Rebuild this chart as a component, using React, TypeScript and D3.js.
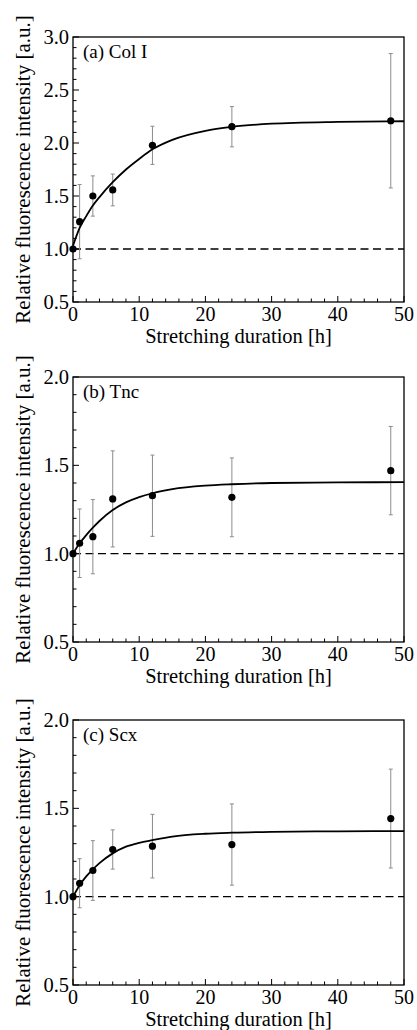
import React from "react";
import * as d3 from "d3";

// ---- data ----
const times = [0, 1, 3, 6, 12, 24, 48];

const colIMean = [1.0, 1.258, 1.5, 1.557, 1.978, 2.154, 2.21];
const colISd = [0, 0.35, 0.19, 0.15, 0.18, 0.19, 0.634];

const tncMean = [1.0, 1.059, 1.096, 1.31, 1.328, 1.319, 1.47];
const tncSd = [0, 0.194, 0.21, 0.272, 0.23, 0.223, 0.25];

const scxMean = [1.0, 1.076, 1.148, 1.267, 1.286, 1.295, 1.442];
const scxSd = [0, 0.139, 0.169, 0.111, 0.18, 0.23, 0.28];

const fitTimes = [0, 1, 2, 3, 4, 6, 8, 10, 12, 15, 20, 24, 30, 40, 50];
const colIFit = [1.03, 1.2, 1.31, 1.41, 1.49, 1.63, 1.75, 1.85, 1.94, 2.03, 2.115, 2.152, 2.182, 2.199, 2.205];
const tncFit = [1.0, 1.059, 1.105, 1.147, 1.185, 1.247, 1.29, 1.32, 1.342, 1.365, 1.385, 1.393, 1.4, 1.403, 1.405];
const scxFit = [1.0, 1.065, 1.115, 1.155, 1.19, 1.245, 1.283, 1.305, 1.32, 1.34, 1.356, 1.362, 1.367, 1.37, 1.371];

const panelLabels = ["(a) Col I", "(b) Tnc", "(c) Scx"];
const yDomains: [number, number][] = [[0.5, 3.0], [0.5, 2.0], [0.5, 2.0]];
const xTicks = [0, 10, 20, 30, 40, 50];
const xTitle = "Stretching duration [h]";
const yTitle = "Relative fluorescence intensity [a.u.]";

// ---- layout ----
const W = 417;
const H = 1030;
const left = 73;
const right = 404;
const panelTops = [37, 377, 720];
const panelH = 265;
const FONT = "'Liberation Serif', 'Times New Roman', serif";

type PanelProps = {
  top: number;
  label: string;
  domain: [number, number];
  mean: number[];
  sd: number[];
  fit: number[];
};

function Panel({ top, label, domain, mean, sd, fit }: PanelProps) {
  const bottom = top + panelH;
  const x = d3.scaleLinear().domain([0, 50]).range([left, right]);
  const y = d3.scaleLinear().domain(domain).range([bottom, top]);

  const minorX = d3.range(0, 50.001, 2);
  const majorY = d3.range(domain[0], domain[1] + 0.001, 0.5);
  const minorY = d3.range(Math.round(domain[0] * 10), Math.round(domain[1] * 10) + 1).map((v) => v / 10);

  const line = d3
    .line<number>()
    .x((_, i) => x(fitTimes[i]))
    .y((d) => y(d))
    .curve(d3.curveMonotoneX);

  return (
    <g>
      {minorX.map((t) => (
        <line key={"mx" + t} x1={x(t)} x2={x(t)} y1={bottom} y2={bottom - (t % 10 === 0 ? 6 : 3.5)} stroke="#000" strokeWidth={1} />
      ))}
      {minorY.map((v) => {
        const isMajor = majorY.some((m) => Math.abs(m - v) < 1e-6);
        return (
          <line key={"my" + v} x1={left} x2={left + (isMajor ? 6 : 3.5)} y1={y(v)} y2={y(v)} stroke="#000" strokeWidth={1} />
        );
      })}
      <line x1={x(0)} x2={x(50)} y1={y(1)} y2={y(1)} stroke="#000" strokeWidth={1.3} strokeDasharray="8,4.5" />
      {times.map((t, i) =>
        sd[i] > 0 ? (
          <g key={"e" + t} stroke="#8c8c8c" strokeWidth={1}>
            <line x1={x(t)} x2={x(t)} y1={y(mean[i] - sd[i])} y2={y(mean[i] + sd[i])} />
            <line x1={x(t) - 2} x2={x(t) + 2} y1={y(mean[i] + sd[i])} y2={y(mean[i] + sd[i])} />
            <line x1={x(t) - 2} x2={x(t) + 2} y1={y(mean[i] - sd[i])} y2={y(mean[i] - sd[i])} />
          </g>
        ) : null
      )}
      <path d={line(fit) || ""} fill="none" stroke="#000" strokeWidth={1.8} />
      {times.map((t, i) => (
        <circle key={"p" + t} cx={x(t)} cy={y(mean[i])} r={3.6} fill="#000" />
      ))}
      <rect x={left} y={top} width={right - left} height={panelH} fill="none" stroke="#000" strokeWidth={1.3} />
      {majorY.map((v) => (
        <text key={"yl" + v} x={left - 4} y={y(v) + 7} textAnchor="end" fontSize={20.5} fontFamily={FONT} fill="#000">
          {v.toFixed(1)}
        </text>
      ))}
      {xTicks.map((t) => (
        <text key={"xl" + t} x={x(t)} y={bottom + 19} textAnchor="middle" fontSize={20} fontFamily={FONT} fill="#000">
          {t}
        </text>
      ))}
      <text x={(left + right) / 2} y={bottom + 41} textAnchor="middle" fontSize={20.5} fontFamily={FONT} fill="#000">
        {xTitle}
      </text>
      <text
        transform={`translate(30,${(top + bottom) / 2}) rotate(-90)`}
        textAnchor="middle"
        fontSize={21}
        fontFamily={FONT}
        fill="#000"
      >
        {yTitle}
      </text>
      <text x={left + 10} y={top + 21} fontSize={19} fontFamily={FONT} fill="#000">
        {label}
      </text>
    </g>
  );
}

export default function App() {
  const means = [colIMean, tncMean, scxMean];
  const sds = [colISd, tncSd, scxSd];
  const fits = [colIFit, tncFit, scxFit];
  return (
    <svg width={W} height={H} style={{ position: "absolute", left: 0, top: 0, background: "#fff" }}>
      <rect width={W} height={H} fill="#fff" />
      {panelTops.map((top, i) => (
        <Panel key={i} top={top} label={panelLabels[i]} domain={yDomains[i]} mean={means[i]} sd={sds[i]} fit={fits[i]} />
      ))}
    </svg>
  );
}
